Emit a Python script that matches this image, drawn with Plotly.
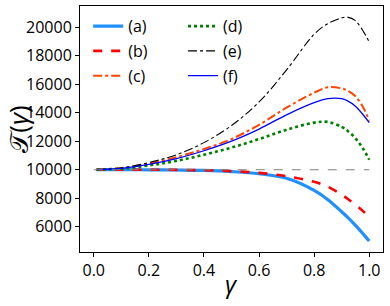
import plotly.graph_objects as go

gamma = [0.01, 0.1, 0.2, 0.3, 0.4, 0.5, 0.6, 0.7, 0.8, 0.85, 0.9, 0.92, 0.95, 0.98, 1.0]
series_a = [10000, 10000, 9995, 9980, 9950, 9870, 9720, 9400, 8550, 7900, 7050, 6700, 6100, 5450, 5000]
series_b = [10000, 10000, 9997, 9990, 9960, 9900, 9780, 9550, 9150, 8800, 8250, 7980, 7550, 7050, 6700]
series_c = [10000, 10120, 10430, 10880, 11450, 12150, 13150, 14350, 15400, 15780, 15700, 15550, 15150, 14300, 13450]
series_d = [10000, 10080, 10300, 10620, 11050, 11550, 12150, 12800, 13300, 13350, 13000, 12750, 12200, 11400, 10700]
series_e = [10000, 10120, 10500, 11050, 11900, 13100, 14750, 17000, 19500, 20250, 20650, 20700, 20450, 19650, 18950]
series_f = [10000, 10100, 10380, 10780, 11330, 12000, 12850, 13850, 14700, 14980, 14980, 14850, 14450, 13800, 13300]
ref_x = [0.0, 1.0]
ref_y = [10000, 10000]

labels = ["(a)", "(b)", "(c)", "(d)", "(e)", "(f)"]
x_ticks = [0.0, 0.2, 0.4, 0.6, 0.8, 1.0]
y_ticks = [6000, 8000, 10000, 12000, 14000, 16000, 18000, 20000]
x_title = "<i>γ</i>"
y_title = "𝒯(<i>γ</i>)"

styles = [
    (series_a, "#1E90FF", "solid", 3.2, "legend"),
    (series_b, "#FF0000", "dash", 2.6, "legend"),
    (series_c, "#FF4500", "dashdot", 2.0, "legend"),
    (series_d, "#008000", "dot", 2.6, "legend2"),
    (series_e, "#000000", "dashdot", 1.1, "legend2"),
    (series_f, "#0000FF", "solid", 1.3, "legend2"),
]

fig = go.Figure()
for (vals, col, dash, w, lg), lab in zip(styles, labels):
    fig.add_trace(go.Scatter(x=gamma, y=vals, mode="lines", name=lab, legendgroup=lab,
                             line=dict(color=col, dash=dash, width=w, shape="spline"),
                             legend=lg))
fig.add_trace(go.Scatter(x=ref_x, y=ref_y, mode="lines", showlegend=False,
                         line=dict(color="#808080", dash="dash", width=1.1)))

fig.add_annotation(xref="paper", yref="paper", x=0.5, y=-0.13, text=x_title,
                   showarrow=False, xanchor="center", yanchor="middle",
                   font=dict(size=24))

fig.update_layout(
    width=390, height=306,
    margin=dict(l=80, r=7, t=6, b=54),
    plot_bgcolor="white", paper_bgcolor="white",
    font=dict(size=16, color="black"),
    legend=dict(x=0.027, y=0.987, xanchor="left", yanchor="top",
                bgcolor="rgba(0,0,0,0)", font=dict(size=16), tracegroupgap=1),
    legend2=dict(x=0.34, y=0.987, xanchor="left", yanchor="top",
                 bgcolor="rgba(0,0,0,0)", font=dict(size=16), tracegroupgap=1),
    xaxis=dict(range=[-0.05, 1.05], tickvals=x_ticks, tickformat=".1f",
               showgrid=False, zeroline=False, showline=True, linecolor="black",
               linewidth=1, mirror=True, ticks="outside", ticklen=4, tickcolor="black"),
    yaxis=dict(range=[4230, 21480], tickvals=y_ticks, tickformat="d",
               showgrid=False, zeroline=False, showline=True, linecolor="black",
               linewidth=1, mirror=True, ticks="outside", ticklen=4, tickcolor="black",
               title=dict(text=y_title, font=dict(size=26), standoff=2)),
)

fig.write_html("out.html", post_script="document.body.style.margin='0';",
               config={"displayModeBar": False})
